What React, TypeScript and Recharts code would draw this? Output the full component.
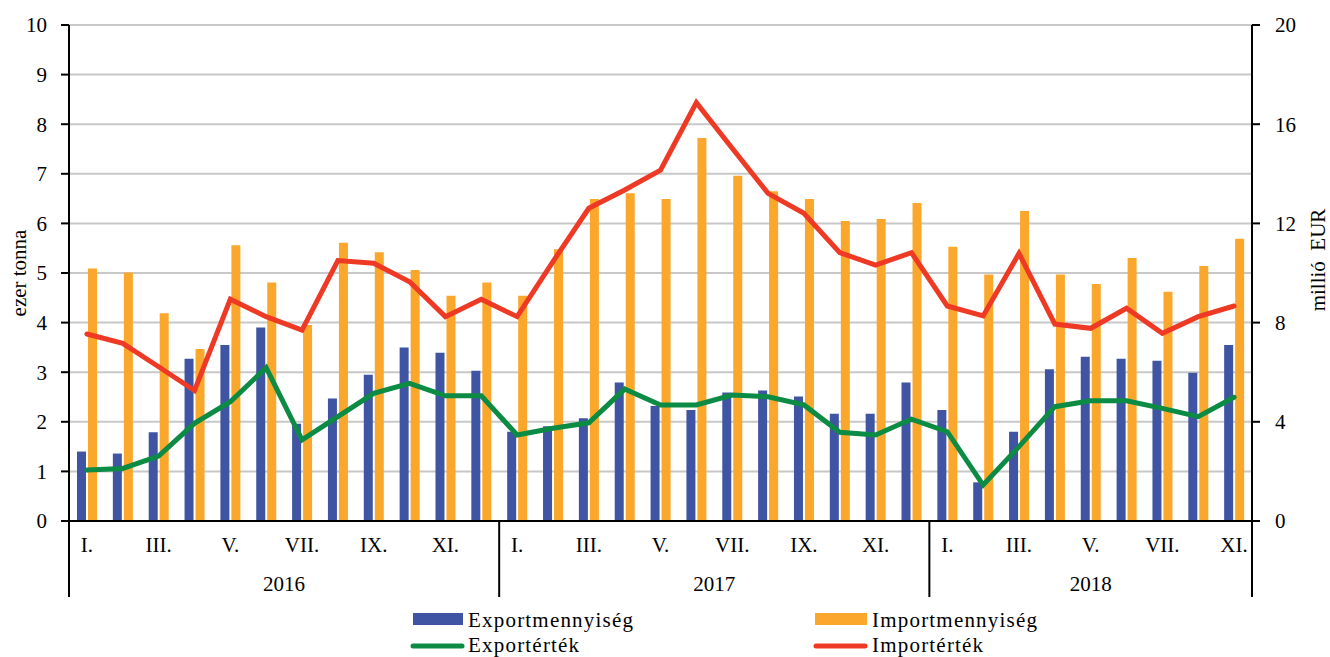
import React from 'react';
import { ComposedChart, Bar, Line, XAxis, YAxis, CartesianGrid, Legend } from 'recharts';

// ---- data ----
const tickLabels = [
  'I.', '', 'III.', '', 'V.', '', 'VII.', '', 'IX.', '', 'XI.', '',
  'I.', '', 'III.', '', 'V.', '', 'VII.', '', 'IX.', '', 'XI.', '',
  'I.', '', 'III.', '', 'V.', '', 'VII.', '', 'XI.',
];
const years = ['2016', '2017', '2018'];
const yearMonths = [12, 12, 9];

const exportQty = [
  1.40, 1.36, 1.79, 3.27, 3.55, 3.90, 1.96, 2.47, 2.95, 3.50, 3.39, 3.03,
  1.80, 1.91, 2.07, 2.79, 2.32, 2.24, 2.59, 2.63, 2.51, 2.16, 2.16, 2.79,
  2.24, 0.78, 1.80, 3.06, 3.31, 3.27, 3.23, 2.99, 3.55,
];
const importQty = [
  5.09, 5.01, 4.19, 3.47, 5.56, 4.81, 3.95, 5.61, 5.42, 5.06, 4.54, 4.81,
  4.54, 5.48, 6.49, 6.61, 6.49, 7.72, 6.96, 6.65, 6.49, 6.05, 6.09, 6.41,
  5.53, 4.97, 6.25, 4.97, 4.78, 5.30, 4.62, 5.14, 5.69,
];
const exportVal = [
  2.06, 2.12, 2.62, 3.94, 4.81, 6.18, 3.27, 4.21, 5.15, 5.55, 5.05, 5.05,
  3.47, 3.74, 3.96, 5.32, 4.68, 4.68, 5.08, 5.01, 4.68, 3.58, 3.47, 4.11,
  3.60, 1.45, 3.00, 4.61, 4.85, 4.85, 4.54, 4.21, 4.99,
];
const importVal = [
  7.54, 7.16, 6.22, 5.26, 8.94, 8.24, 7.70, 10.50, 10.39, 9.65, 8.24, 8.94,
  8.24, 10.46, 12.61, 13.35, 14.15, 16.87, 15.03, 13.21, 12.41, 10.82, 10.32, 10.82,
  8.67, 8.27, 10.79, 7.94, 7.77, 8.58, 7.57, 8.24, 8.67,
];
const leftTicks = [0, 1, 2, 3, 4, 5, 6, 7, 8, 9, 10];
const rightTicks = [0, 4, 8, 12, 16, 20];

const seriesNames = ['Exportmennyiség', 'Importmennyiség', 'Exportérték', 'Importérték'];
const COLORS = { blue: '#3F55A4', orange: '#FAA72B', green: '#0B8B43', red: '#EE3A24' };

const data = exportQty.map((_, i) => ({
  idx: i,
  eq: exportQty[i],
  iq: importQty[i],
  ev: exportVal[i],
  iv: importVal[i],
}));

// ---- layout ----
const CHART_W = 1330;
const CHART_H = 657;
const YL_W = 69;
const YR_W = 78;
const N = data.length;
const BAND = (CHART_W - YL_W - YR_W) / N;
const FONT = 'Liberation Serif, serif';

const yearStarts: number[] = [];
{
  let s = 0;
  yearMonths.forEach((c) => {
    yearStarts.push(s);
    s += c;
  });
}

const MonthTick = (props: any) => {
  const { x, y, payload } = props;
  const i = payload.index;
  const els: React.ReactNode[] = [];
  const label = tickLabels[i] || '';
  if (label) {
    els.push(
      <text key="m" x={x} y={y + 31} textAnchor="middle" fontSize={21} fill="#000" fontFamily={FONT}>
        {label}
      </text>
    );
  }
  yearStarts.forEach((s, k) => {
    const c = yearMonths[k];
    const mid = s + Math.floor((c - 1) / 2);
    if (i === mid) {
      const cx = x + (c % 2 === 0 ? BAND / 2 : 0);
      els.push(
        <text key={'y' + k} x={cx} y={y + 70} textAnchor="middle" fontSize={21} fill="#000" fontFamily={FONT}>
          {years[k]}
        </text>
      );
    }
    if (i === s) {
      els.push(<line key={'d' + k} x1={x - BAND / 2} x2={x - BAND / 2} y1={y} y2={y + 76} stroke="#000" strokeWidth={2} />);
    }
  });
  if (i === N - 1) {
    els.push(<line key="end" x1={x + BAND / 2} x2={x + BAND / 2} y1={y} y2={y + 76} stroke="#000" strokeWidth={2} />);
  }
  return <g>{els}</g>;
};

const LegendContent = () => (
  <svg width={CHART_W} height={57} style={{ display: 'block' }}>
    <rect x={413} y={13} width={50} height={12} fill={COLORS.blue} />
    <text x={468} y={27} fontSize={21} letterSpacing={1.2} fontFamily={FONT} fill="#000">{seriesNames[0]}</text>
    <rect x={815} y={13} width={52} height={12} fill={COLORS.orange} />
    <text x={872} y={27} fontSize={21} letterSpacing={1.2} fontFamily={FONT} fill="#000">{seriesNames[1]}</text>
    <line x1={413} x2={462} y1={46} y2={46} stroke={COLORS.green} strokeWidth={5} strokeLinecap="round" />
    <text x={468} y={52} fontSize={21} letterSpacing={1.2} fontFamily={FONT} fill="#000">{seriesNames[2]}</text>
    <line x1={816} x2={865} y1={46} y2={46} stroke={COLORS.red} strokeWidth={5} strokeLinecap="round" />
    <text x={872} y={52} fontSize={21} letterSpacing={1.2} fontFamily={FONT} fill="#000">{seriesNames[3]}</text>
  </svg>
);

const LeftLabel = (props: any) => {
  const vb = props.viewBox || { x: 0, y: 25, width: YL_W, height: 496 };
  const cx = vb.x + 19;
  const cy = vb.y + vb.height / 2;
  return (
    <text x={cx} y={cy} transform={`rotate(-90 ${cx} ${cy})`} textAnchor="middle" dominantBaseline="central" fontSize={21} fill="#000" fontFamily={FONT}>
      ezer tonna
    </text>
  );
};

const RightLabel = (props: any) => {
  const vb = props.viewBox || { x: 1252, y: 25, width: YR_W, height: 496 };
  const cx = vb.x + 66;
  const cy = vb.y + vb.height / 2 - 13;
  return (
    <text x={cx} y={cy} transform={`rotate(-90 ${cx} ${cy})`} textAnchor="middle" dominantBaseline="central" fontSize={21} fill="#000" fontFamily={FONT} style={{ whiteSpace: 'pre' }}>
      {'millió  EUR'}
    </text>
  );
};

export default function App() {
  return (
    <div style={{ position: 'absolute', left: 0, top: 0, width: CHART_W, height: CHART_H, background: '#fff', fontFamily: FONT }}>
      <ComposedChart
        width={CHART_W}
        height={CHART_H}
        data={data}
        margin={{ top: 25, right: 0, bottom: 60, left: 0 }}
        barSize={9}
        barGap={2}
        style={{ fontFamily: FONT }}
      >
        <CartesianGrid yAxisId="left" vertical={false} stroke="#c8c8c8" strokeWidth={2} />
        <XAxis
          dataKey="idx"
          type="category"
          height={76}
          interval={0}
          tickSize={0}
          tickMargin={0}
          tickLine={false}
          axisLine={{ stroke: '#000', strokeWidth: 2 }}
          tick={<MonthTick />}
        />
        <YAxis
          yAxisId="left"
          domain={[0, 10]}
          ticks={leftTicks}
          width={YL_W}
          tickSize={8}
          tickMargin={14}
          axisLine={{ stroke: '#000', strokeWidth: 2 }}
          tickLine={{ stroke: '#000', strokeWidth: 2 }}
          tick={{ fill: '#000', fontSize: 21, fontFamily: FONT }}
          label={<LeftLabel />}
        />
        <YAxis
          yAxisId="right"
          orientation="right"
          domain={[0, 20]}
          ticks={rightTicks}
          width={YR_W}
          tickSize={8}
          tickMargin={15}
          axisLine={{ stroke: '#000', strokeWidth: 2 }}
          tickLine={{ stroke: '#000', strokeWidth: 2 }}
          tick={{ fill: '#000', fontSize: 21, fontFamily: FONT }}
          label={<RightLabel />}
        />
        <Bar yAxisId="left" dataKey="eq" name={seriesNames[0]} fill={COLORS.blue} isAnimationActive={false} />
        <Bar yAxisId="left" dataKey="iq" name={seriesNames[1]} fill={COLORS.orange} isAnimationActive={false} />
        <Line yAxisId="right" type="linear" dataKey="ev" name={seriesNames[2]} stroke={COLORS.green} strokeWidth={5} dot={false} strokeLinecap="round" isAnimationActive={false} />
        <Line yAxisId="right" type="linear" dataKey="iv" name={seriesNames[3]} stroke={COLORS.red} strokeWidth={5} dot={false} strokeLinecap="round" isAnimationActive={false} />
        <Legend
          layout="vertical"
          align="center"
          verticalAlign="middle"
          content={<LegendContent />}
          wrapperStyle={{ position: 'absolute', left: 0, top: 600, width: CHART_W, height: 57 }}
        />
      </ComposedChart>
    </div>
  );
}
